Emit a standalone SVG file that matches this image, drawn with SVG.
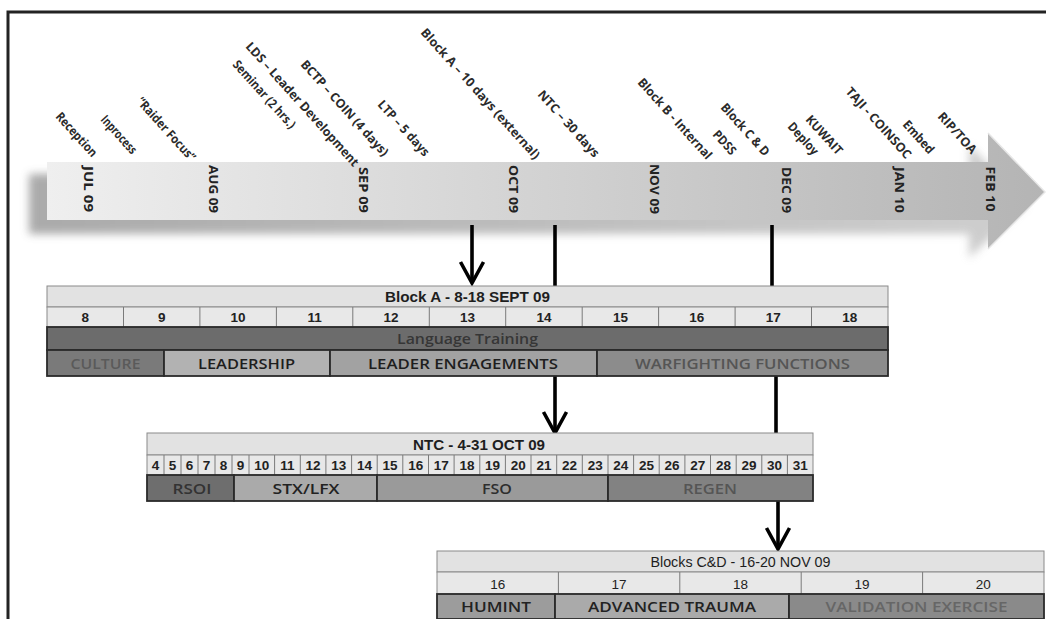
<svg xmlns="http://www.w3.org/2000/svg" width="1046" height="619" viewBox="0 0 1046 619">
<defs>
<linearGradient id="bodyG" x1="47" y1="0" x2="1045" y2="0" gradientUnits="userSpaceOnUse">
<stop offset="0" stop-color="#efefef"/>
<stop offset="0.5" stop-color="#d2d2d2"/>
<stop offset="1" stop-color="#b4b4b4"/>
</linearGradient>
<linearGradient id="shG" x1="27" y1="0" x2="1040" y2="0" gradientUnits="userSpaceOnUse">
<stop offset="0" stop-color="#9c9c9c"/>
<stop offset="1" stop-color="#c8c8c8"/>
</linearGradient>
<filter id="blur" x="-10%" y="-50%" width="120%" height="200%"><feGaussianBlur stdDeviation="4"/></filter>
<marker id="chev" markerUnits="userSpaceOnUse" markerWidth="30" markerHeight="30" viewBox="-26 -15 30 30" refX="0" refY="0" orient="auto">
<path d="M-21,-11.5 L0,0 L-21,11.5" fill="none" stroke="#000" stroke-width="3.6" stroke-linejoin="miter"/>
</marker>
</defs>
<style>
.ev{font-family:"Open Sans","Noto Sans",sans-serif;font-weight:700;font-size:12.5px;fill:#2b2b2b}
.mo{font-family:"Open Sans","Noto Sans",sans-serif;font-weight:700;font-size:12.5px;fill:#222}
.ttl{font-family:"Liberation Sans",Arial,sans-serif;font-weight:700;font-size:14px;fill:#1e1e1e}
.ttlr{font-family:"Liberation Sans",Arial,sans-serif;font-size:14.5px;fill:#1e1e1e}
.day{font-family:"Liberation Sans",Arial,sans-serif;font-weight:700;font-size:13.5px;fill:#222}
.dayr{font-family:"Liberation Sans",Arial,sans-serif;font-size:13.5px;fill:#222}
.act{font-family:"Open Sans","Noto Sans",sans-serif;font-weight:600;font-size:14.5px}
.hdr{fill:#e2e2e2;stroke:#8a8a8a;stroke-width:1}
.drow{fill:#e8e8e8;stroke:#8a8a8a;stroke-width:1}
.div{stroke:#7a7a7a;stroke-width:1}
.bar{stroke:#2a2a2a;stroke-width:1.8}
.con{stroke:#000;stroke-width:3.6;fill:none}
</style>
<rect width="1046" height="619" fill="#fff"/>
<path d="M8,621 V12 H1048" fill="none" stroke="#232323" stroke-width="3"/>

<g id="timeline">
<polygon points="29,174 969,174 969,145 1027,204 969,258 969,234 29,234" fill="url(#shG)" filter="url(#blur)" opacity="0.85"/>
<polygon points="47,162 988,162 988,133 1045,192 988,249 988,220 47,220" fill="url(#bodyG)"/>
<polyline points="988,133 1045,192 988,249" fill="none" stroke="#e6e6e6" stroke-width="1.5"/>
<g class="mo" text-anchor="middle">
<text transform="translate(88,189) rotate(90)" dominant-baseline="central" textLength="46" lengthAdjust="spacingAndGlyphs">JUL 09</text>
<text transform="translate(213,189) rotate(90)" dominant-baseline="central" textLength="48" lengthAdjust="spacingAndGlyphs">AUG 09</text>
<text transform="translate(363,190) rotate(90)" dominant-baseline="central" textLength="46" lengthAdjust="spacingAndGlyphs">SEP 09</text>
<text transform="translate(513,189) rotate(90)" dominant-baseline="central" textLength="48" lengthAdjust="spacingAndGlyphs">OCT 09</text>
<text transform="translate(654,189) rotate(90)" dominant-baseline="central" textLength="50" lengthAdjust="spacingAndGlyphs">NOV 09</text>
<text transform="translate(786,190) rotate(90)" dominant-baseline="central" textLength="46" lengthAdjust="spacingAndGlyphs">DEC 09</text>
<text transform="translate(899,190) rotate(90)" dominant-baseline="central" textLength="46" lengthAdjust="spacingAndGlyphs">JAN 10</text>
<text transform="translate(990,189) rotate(90)" dominant-baseline="central" textLength="45" lengthAdjust="spacingAndGlyphs">FEB 10</text>
</g>
</g>

<g id="events" class="ev">
<text transform="translate(55,117) rotate(48)" textLength="55" lengthAdjust="spacingAndGlyphs">Reception</text>
<text transform="translate(100,120) rotate(48)" textLength="47" lengthAdjust="spacingAndGlyphs">Inprocess</text>
<text transform="translate(136,102) rotate(48)" textLength="81" lengthAdjust="spacingAndGlyphs">“Raider Focus”</text>
<text transform="translate(245,47) rotate(48)" textLength="162" lengthAdjust="spacingAndGlyphs">LDS – Leader Development</text>
<text transform="translate(232,65) rotate(48)" textLength="87" lengthAdjust="spacingAndGlyphs">Seminar (2 hrs.)</text>
<text transform="translate(300,65) rotate(48)" textLength="124" lengthAdjust="spacingAndGlyphs">BCTP – COIN (4 days)</text>
<text transform="translate(377,105) rotate(48)" textLength="70" lengthAdjust="spacingAndGlyphs">LTP – 5 days</text>
<text transform="translate(420,33) rotate(48)" textLength="171" lengthAdjust="spacingAndGlyphs">Block A – 10 days (external)</text>
<text transform="translate(537,95) rotate(48)" textLength="85" lengthAdjust="spacingAndGlyphs">NTC – 30 days</text>
<text transform="translate(637,83) rotate(48)" textLength="104" lengthAdjust="spacingAndGlyphs">Block B - Internal</text>
<text transform="translate(712,135) rotate(48)" textLength="28" lengthAdjust="spacingAndGlyphs">PDSS</text>
<text transform="translate(720,108) rotate(48)" textLength="66" lengthAdjust="spacingAndGlyphs">Block C &amp; D</text>
<text transform="translate(787,127) rotate(48)" textLength="39" lengthAdjust="spacingAndGlyphs">Deploy</text>
<text transform="translate(805,120) rotate(48)" textLength="48" lengthAdjust="spacingAndGlyphs">KUWAIT</text>
<text transform="translate(845,92) rotate(48)" textLength="91" lengthAdjust="spacingAndGlyphs">TAJI - COINSOC</text>
<text transform="translate(902,125) rotate(48)" textLength="40" lengthAdjust="spacingAndGlyphs">Embed</text>
<text transform="translate(937,117) rotate(48)" textLength="51" lengthAdjust="spacingAndGlyphs">RIP/TOA</text>
</g>

<g id="connectors">
<line class="con" x1="472" y1="225" x2="472" y2="283" marker-end="url(#chev)"/>
<line class="con" x1="555" y1="225" x2="555" y2="287"/>
<line class="con" x1="772" y1="225" x2="772" y2="287"/>
<line class="con" x1="555" y1="376" x2="555" y2="433" marker-end="url(#chev)"/>
<line class="con" x1="776" y1="376" x2="776" y2="433"/>
<line class="con" x1="778" y1="501" x2="778" y2="549" marker-end="url(#chev)"/>
</g>

<g id="blockA">
<rect class="hdr" x="47" y="286" width="841" height="21"/>
<text class="ttl" x="467.5" y="302" text-anchor="middle" textLength="165" lengthAdjust="spacingAndGlyphs">Block A - 8-18 SEPT 09</text>
<rect class="drow" x="47" y="307" width="841" height="20"/>
<g class="div">
<line x1="123.5" y1="307" x2="123.5" y2="327"/><line x1="199.9" y1="307" x2="199.9" y2="327"/><line x1="276.4" y1="307" x2="276.4" y2="327"/><line x1="352.8" y1="307" x2="352.8" y2="327"/><line x1="429.3" y1="307" x2="429.3" y2="327"/><line x1="505.7" y1="307" x2="505.7" y2="327"/><line x1="582.2" y1="307" x2="582.2" y2="327"/><line x1="658.6" y1="307" x2="658.6" y2="327"/><line x1="735.1" y1="307" x2="735.1" y2="327"/><line x1="811.5" y1="307" x2="811.5" y2="327"/>
</g>
<g class="day" text-anchor="middle">
<text x="85.2" y="322">8</text><text x="161.7" y="322">9</text><text x="238.1" y="322">10</text><text x="314.6" y="322">11</text><text x="391" y="322">12</text><text x="467.5" y="322">13</text><text x="543.9" y="322">14</text><text x="620.4" y="322">15</text><text x="696.8" y="322">16</text><text x="773.3" y="322">17</text><text x="849.7" y="322">18</text>
</g>
<rect class="bar" x="47" y="327" width="841" height="23" fill="#6c6c6c"/>
<text class="act" x="467.5" y="344" text-anchor="middle" fill="#363636" textLength="141" lengthAdjust="spacingAndGlyphs">Language Training</text>
<rect class="bar" x="47" y="350" width="117" height="26" fill="#7a7a7a"/>
<text class="act" x="105.5" y="368.5" text-anchor="middle" fill="#5a5a5a" textLength="70" lengthAdjust="spacingAndGlyphs">CULTURE</text>
<rect class="bar" x="164" y="350" width="166" height="26" fill="#b2b2b2"/>
<text class="act" x="246.5" y="368.5" text-anchor="middle" fill="#1e1e1e" textLength="97" lengthAdjust="spacingAndGlyphs">LEADERSHIP</text>
<rect class="bar" x="330" y="350" width="267" height="26" fill="#a2a2a2"/>
<text class="act" x="463" y="368.5" text-anchor="middle" fill="#1e1e1e" textLength="190" lengthAdjust="spacingAndGlyphs">LEADER ENGAGEMENTS</text>
<rect class="bar" x="597" y="350" width="291" height="26" fill="#8c8c8c"/>
<text class="act" x="742.5" y="368.5" text-anchor="middle" fill="#555" textLength="215" lengthAdjust="spacingAndGlyphs">WARFIGHTING FUNCTIONS</text>
</g>

<g id="ntc">
<rect class="hdr" x="147" y="433" width="666" height="22"/>
<text class="ttl" x="479" y="449.5" text-anchor="middle" textLength="132" lengthAdjust="spacingAndGlyphs">NTC - 4-31 OCT 09</text>
<rect class="drow" x="147" y="455" width="666" height="20"/>
<g class="div">
<line x1="164" y1="455" x2="164" y2="475"/><line x1="181" y1="455" x2="181" y2="475"/><line x1="198" y1="455" x2="198" y2="475"/><line x1="215" y1="455" x2="215" y2="475"/><line x1="232" y1="455" x2="232" y2="475"/><line x1="249" y1="455" x2="249" y2="475"/>
<line x1="274.6" y1="455" x2="274.6" y2="475"/><line x1="300.3" y1="455" x2="300.3" y2="475"/><line x1="325.9" y1="455" x2="325.9" y2="475"/><line x1="351.6" y1="455" x2="351.6" y2="475"/><line x1="377.2" y1="455" x2="377.2" y2="475"/><line x1="402.8" y1="455" x2="402.8" y2="475"/><line x1="428.5" y1="455" x2="428.5" y2="475"/><line x1="454.1" y1="455" x2="454.1" y2="475"/><line x1="479.8" y1="455" x2="479.8" y2="475"/><line x1="505.4" y1="455" x2="505.4" y2="475"/><line x1="531" y1="455" x2="531" y2="475"/><line x1="556.7" y1="455" x2="556.7" y2="475"/><line x1="582.3" y1="455" x2="582.3" y2="475"/><line x1="608" y1="455" x2="608" y2="475"/><line x1="633.6" y1="455" x2="633.6" y2="475"/><line x1="659.2" y1="455" x2="659.2" y2="475"/><line x1="684.9" y1="455" x2="684.9" y2="475"/><line x1="710.5" y1="455" x2="710.5" y2="475"/><line x1="736.2" y1="455" x2="736.2" y2="475"/><line x1="761.8" y1="455" x2="761.8" y2="475"/><line x1="787.4" y1="455" x2="787.4" y2="475"/>
</g>
<g class="day" text-anchor="middle">
<text x="155.5" y="470">4</text><text x="172.5" y="470">5</text><text x="189.5" y="470">6</text><text x="206.5" y="470">7</text><text x="223.5" y="470">8</text><text x="240.5" y="470">9</text>
<text x="261.8" y="470">10</text><text x="287.5" y="470">11</text><text x="313.1" y="470">12</text><text x="338.8" y="470">13</text><text x="364.4" y="470">14</text><text x="390" y="470">15</text><text x="415.7" y="470">16</text><text x="441.3" y="470">17</text><text x="467" y="470">18</text><text x="492.6" y="470">19</text><text x="518.2" y="470">20</text><text x="543.9" y="470">21</text><text x="569.5" y="470">22</text><text x="595.2" y="470">23</text><text x="620.8" y="470">24</text><text x="646.4" y="470">25</text><text x="672.1" y="470">26</text><text x="697.7" y="470">27</text><text x="723.4" y="470">28</text><text x="749" y="470">29</text><text x="774.6" y="470">30</text><text x="800.3" y="470">31</text>
</g>
<rect class="bar" x="147" y="475" width="87" height="26" fill="#6e6e6e"/>
<text class="act" x="192" y="493.5" text-anchor="middle" fill="#333" textLength="39" lengthAdjust="spacingAndGlyphs">RSOI</text>
<rect class="bar" x="234" y="475" width="143" height="26" fill="#aaaaaa"/>
<text class="act" x="306" y="493.5" text-anchor="middle" fill="#222" textLength="67" lengthAdjust="spacingAndGlyphs">STX/LFX</text>
<rect class="bar" x="377" y="475" width="231" height="26" fill="#9a9a9a"/>
<text class="act" x="497" y="493.5" text-anchor="middle" fill="#2e2e2e" textLength="30" lengthAdjust="spacingAndGlyphs">FSO</text>
<rect class="bar" x="608" y="475" width="205" height="26" fill="#828282"/>
<text class="act" x="710" y="493.5" text-anchor="middle" fill="#555" textLength="54" lengthAdjust="spacingAndGlyphs">REGEN</text>
</g>

<g id="blockCD">
<rect class="hdr" x="437" y="551" width="607" height="21"/>
<text class="ttlr" x="740.5" y="567" text-anchor="middle" textLength="180" lengthAdjust="spacingAndGlyphs">Blocks C&amp;D - 16-20 NOV 09</text>
<rect class="drow" x="437" y="572" width="607" height="22"/>
<g class="div">
<line x1="558.4" y1="572" x2="558.4" y2="594"/><line x1="679.8" y1="572" x2="679.8" y2="594"/><line x1="801.2" y1="572" x2="801.2" y2="594"/><line x1="922.6" y1="572" x2="922.6" y2="594"/>
</g>
<g class="dayr" text-anchor="middle">
<text x="497.7" y="588.5">16</text><text x="619.1" y="588.5">17</text><text x="740.5" y="588.5">18</text><text x="861.9" y="588.5">19</text><text x="983.3" y="588.5">20</text>
</g>
<rect class="bar" x="437" y="594" width="118" height="25" fill="#9c9c9c"/>
<text class="act" x="496" y="611.5" text-anchor="middle" fill="#222" textLength="70" lengthAdjust="spacingAndGlyphs">HUMINT</text>
<rect class="bar" x="555" y="594" width="234" height="25" fill="#aaaaaa"/>
<text class="act" x="672" y="611.5" text-anchor="middle" fill="#222" textLength="168" lengthAdjust="spacingAndGlyphs">ADVANCED TRAUMA</text>
<rect class="bar" x="789" y="594" width="255" height="25" fill="#8a8a8a"/>
<text class="act" x="916.5" y="611.5" text-anchor="middle" fill="#666" textLength="182" lengthAdjust="spacingAndGlyphs">VALIDATION EXERCISE</text>
</g>
</svg>
